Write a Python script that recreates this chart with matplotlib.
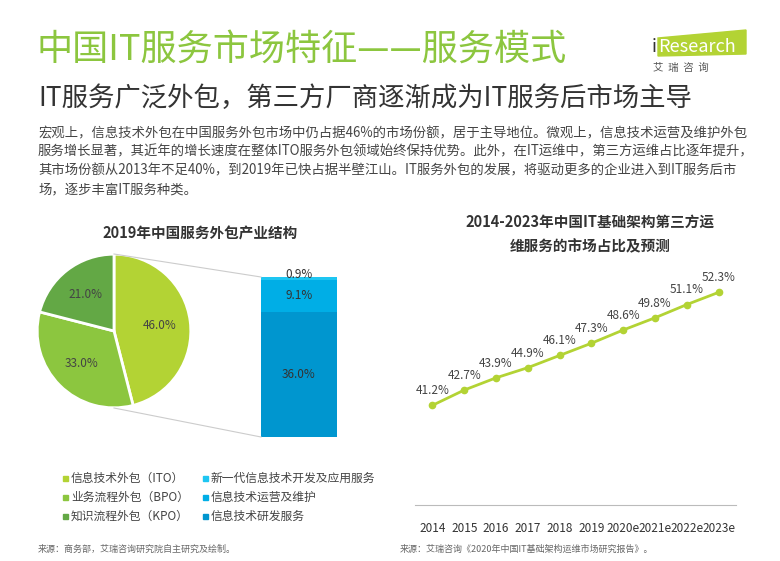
import numpy as np
import matplotlib.pyplot as plt
from matplotlib.patches import Rectangle

plt.rcParams['font.family'] = ['Noto Sans CJK SC', 'DejaVu Sans']

pie_labels = ['信息技术外包（ITO）', '业务流程外包（BPO）', '知识流程外包（KPO）']
pie_values = [46.0, 33.0, 21.0]
pie_colors = ['#b3d334', '#8cc63f', '#63a845']

bar_labels = ['信息技术研发服务', '信息技术运营及维护', '新一代信息技术开发及应用服务']
bar_values = [36.0, 9.1, 0.9]
bar_colors = ['#0096cf', '#00aee6', '#1ec6f2']

years = ['2014', '2015', '2016', '2017', '2018', '2019', '2020e', '2021e', '2022e', '2023e']
share = [41.2, 42.7, 43.9, 44.9, 46.1, 47.3, 48.6, 49.8, 51.1, 52.3]

W, H = 780, 561
fig = plt.figure(figsize=(7.8, 5.61), dpi=100)

def ax_px(x0, y0, x1, y1):
    return fig.add_axes([x0 / W, 1 - y1 / H, (x1 - x0) / W, (y1 - y0) / H])

# header
fig.text(36 / W, 1 - 50 / H, '中国IT服务市场特征——服务模式', fontsize=26, color='#8cc63f', va='center')
fig.text(38 / W, 1 - 98 / H, 'IT服务广泛外包，第三方厂商逐渐成为IT服务后市场主导', fontsize=19, color='#333333', va='center')
body = ('宏观上，信息技术外包在中国服务外包市场中仍占据46%的市场份额，居于主导地位。微观上，信息技术运营及维护外包\n'
        '服务增长显著，其近年的增长速度在整体ITO服务外包领域始终保持优势。此外，在IT运维中，第三方运维占比逐年提升，\n'
        '其市场份额从2013年不足40%，到2019年已快占据半壁江山。IT服务外包的发展，将驱动更多的企业进入到IT服务后市\n'
        '场，逐步丰富IT服务种类。')
fig.text(38 / W, 1 - 126 / H, body, fontsize=9.6, color='#444444', va='top', linespacing=1.45)

# logo
lax = ax_px(648, 28, 748, 75)
lax.set_xlim(0, 100); lax.set_ylim(75, 28); lax.axis('off')
lax.fill([10, 98, 98, 10], [38, 30, 54, 56], color='#b3d334')
lax.text(4, 47, 'i', fontsize=13, color='#333333', va='center')
lax.text(10, 47, 'Research', fontsize=13, color='white', va='center')
lax.text(5, 68, '艾  瑞  咨  询', fontsize=7.5, color='#555555', va='center')

# pie
pax = ax_px(18, 235, 210, 427)
pax.pie(pie_values, colors=pie_colors, startangle=90, counterclock=False,
        wedgeprops=dict(edgecolor='white', linewidth=2),
        autopct='%.1f%%', pctdistance=0.6, textprops=dict(fontsize=8.5, color='#444444'))
pax.set_aspect('equal')

# stacked bar
bax = ax_px(261, 277, 337, 437)
bottom = 0
for v, c in zip(bar_values, bar_colors):
    bax.bar(0, v, bottom=bottom, color=c, width=1)
    bax.text(0, bottom + v / 2 if v > 2 else bottom + v + 0.6, f'{v:.1f}%',
             ha='center', va='center', fontsize=8.5, color='#333333')
    bottom += v
bax.set_xlim(-0.5, 0.5); bax.set_ylim(0, bottom); bax.axis('off')

# connecting lines
cax = ax_px(0, 0, W, H)
cax.set_xlim(0, W); cax.set_ylim(H, 0); cax.axis('off')
cax.plot([114, 261], [254, 277], color='#cccccc', lw=0.8)
cax.plot([114, 261], [408, 437], color='#cccccc', lw=0.8)
fig.text(200 / W, 1 - 233 / H, '2019年中国服务外包产业结构', fontsize=10.5, fontweight='bold', color='#333333', ha='center', va='center')
fig.text(590 / W, 1 - 222 / H, '2014-2023年中国IT基础架构第三方运', fontsize=10.5, fontweight='bold', color='#333333', ha='center', va='center')
fig.text(590 / W, 1 - 246 / H, '维服务的市场占比及预测', fontsize=10.5, fontweight='bold', color='#333333', ha='center', va='center')

# legend
for i, (lab, c) in enumerate(zip(pie_labels, pie_colors)):
    y = 478 + i * 19
    cax.add_patch(Rectangle((63, y - 2.5), 5, 5, color=c))
    cax.text(71, y, lab, fontsize=8.5, color='#444444', va='center')
for i, (lab, c) in enumerate(zip(bar_labels[::-1], bar_colors[::-1])):
    y = 478 + i * 19
    cax.add_patch(Rectangle((203, y - 2.5), 5, 5, color=c))
    cax.text(211, y, lab, fontsize=8.5, color='#444444', va='center')

fig.text(38 / W, 1 - 549 / H, '来源：商务部，艾瑞咨询研究院自主研究及绘制。', fontsize=6.5, color='#666666', va='center')
fig.text(400 / W, 1 - 549 / H, '来源：艾瑞咨询《2020年中国IT基础架构运维市场研究报告》。', fontsize=6.5, color='#666666', va='center')

# line chart
lnax = ax_px(415, 270, 736, 505)
x = np.arange(len(years))
lnax.plot(x, share, color='#b3d334', lw=2, marker='o', markersize=4.5)
for xi, v in zip(x, share):
    lnax.annotate(f'{v:.1f}%', (xi, v), xytext=(0, 8), textcoords='offset points',
                  ha='center', fontsize=8.5, color='#444444')
lnax.set_xlim(-0.55, len(years) - 0.45)
lnax.set_ylim(31.4, 54.5)
lnax.set_xticks(x, years, fontsize=8.5, color='#333333')
lnax.tick_params(length=0, pad=12)
lnax.set_yticks([])
for s in ['top', 'right', 'left']:
    lnax.spines[s].set_visible(False)
lnax.spines['bottom'].set_color('#bbbbbb')

fig.savefig('out.png', dpi=100)
